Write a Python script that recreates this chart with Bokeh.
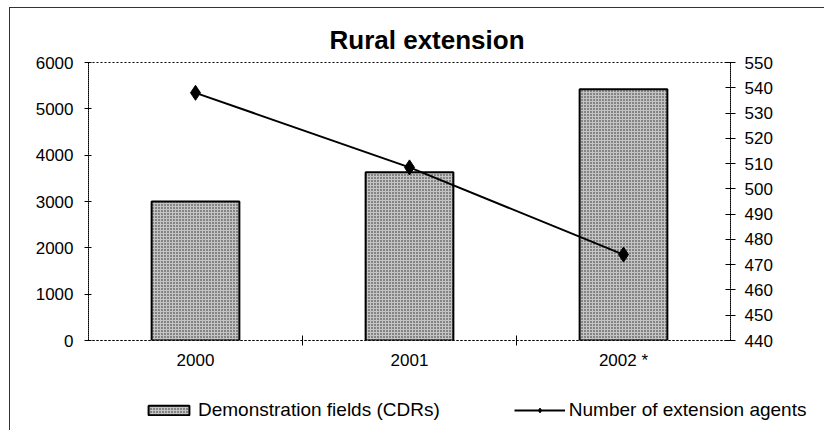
from bokeh.plotting import figure
from bokeh.models import (Range1d, LinearAxis, FixedTicker, SingleIntervalTicker,
                          Legend, LegendItem, ColumnDataSource)
from bokeh.embed import file_html
from bokeh.resources import INLINE

years = ["2000", "2001", "2002 *"]
demo_fields = [3000, 3630, 5420]
extension_agents = [538, 508.5, 474]

FONT = "Liberation Sans"
BAR_STYLE = dict(fill_color="#c4c4c4", hatch_pattern="dot", hatch_scale=3,
                 hatch_weight=1.5, hatch_color="#222222",
                 line_color="black", line_width=2)

xs = list(range(len(years)))
src = ColumnDataSource(dict(x=xs, fields=demo_fields, agents=extension_agents))

p = figure(width=815, height=377, output_backend="svg", toolbar_location=None,
           x_range=Range1d(-0.5, len(years) - 0.5), y_range=Range1d(0, 6000),
           min_border_left=78, min_border_right=95, min_border_top=54, min_border_bottom=45)
p.extra_y_ranges = {"agents": Range1d(440, 550)}
p.margin = (7, 0, 0, 9)
p.styles = {"border-left": "1px solid #333", "border-top": "1px solid #333"}

p.title.text = "Rural extension"
p.title.text_font = FONT
p.title.text_font_size = "26px"
p.title.text_font_style = "bold"
p.title.text_color = "black"
p.title.align = "left"
p.title.offset = 241
p.title.standoff = 15

p.xgrid.visible = False
p.ygrid.visible = False
p.outline_line_color = "black"
p.outline_line_dash = "2 2"
p.outline_line_width = 1
p.background_fill_color = "white"
p.border_fill_color = "white"

p.vbar(x="x", top="fields", width=0.41, source=src, **BAR_STYLE)
p.line(x="x", y="agents", source=src, y_range_name="agents",
       line_color="black", line_width=2)
p.scatter(x="x", y="agents", source=src, y_range_name="agents",
          marker="diamond", size=15, fill_color="black", line_color="black")

# x axis
xa = p.xaxis[0]
xa.ticker = FixedTicker(ticks=xs, minor_ticks=[0.5, 1.5])
xa.major_label_overrides = {i: y for i, y in enumerate(years)}
xa.major_tick_in = 0
xa.major_tick_out = 0
xa.minor_tick_in = 5
xa.minor_tick_out = 5
xa.minor_tick_line_color = "black"
xa.major_label_standoff = 5

# left y axis
ya = p.yaxis[0]
ya.ticker = SingleIntervalTicker(interval=1000)
ya.minor_tick_line_color = None
ya.major_tick_in = 3
ya.major_tick_out = 4
ya.major_label_standoff = 11

# right y axis
ra = LinearAxis(y_range_name="agents", ticker=SingleIntervalTicker(interval=10))
ra.minor_tick_line_color = None
ra.major_tick_in = 5
ra.major_tick_out = 5
ra.major_label_standoff = 9
p.add_layout(ra, "right")

for ax in (xa, ya, ra):
    ax.major_label_text_font = FONT
    ax.major_label_text_font_size = "17px"
    ax.major_label_text_color = "black"
    ax.axis_line_color = "black"
    ax.axis_line_dash = "2 2"
    ax.major_tick_line_color = "black"

# legend strip below the chart (separate root so its frame is not aligned/clipped)
lg = figure(width=815, height=46, output_backend="svg", toolbar_location=None,
            x_range=Range1d(0, 1), y_range=Range1d(0, 1), min_border=0,
            x_axis_type=None, y_axis_type=None)
lg.margin = (0, 0, 0, 9)
lg.styles = {"border-left": "1px solid #333"}
lg.outline_line_color = None
lg.xgrid.visible = False
lg.ygrid.visible = False
nan = float("nan")
lb = lg.vbar(x=[nan], top=[nan], width=0.1, **BAR_STYLE)
ll = lg.line(x=[nan], y=[nan], line_color="black", line_width=2)
lm = lg.scatter(x=[nan], y=[nan], marker="diamond", size=13,
                fill_color="black", line_color="black")

legend = Legend(items=[LegendItem(label="Demonstration fields (CDRs)", renderers=[lb]),
                       LegendItem(label="Number of extension agents", renderers=[ll, lm])],
                orientation="horizontal", location=(133, 9),
                glyph_width=51, glyph_height=12, label_standoff=4, spacing=74,
                padding=0, margin=0, border_line_color=None,
                background_fill_alpha=0,
                label_text_font=FONT, label_text_font_size="19px",
                label_text_color="black")
lg.add_layout(legend, "center")

open("out.html", "w").write(file_html([p, lg], INLINE))
